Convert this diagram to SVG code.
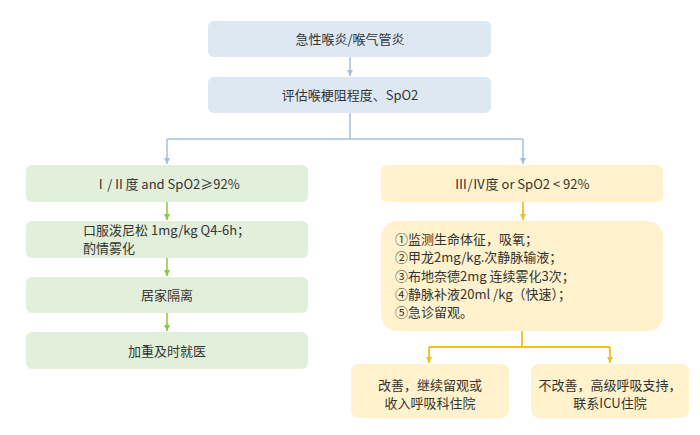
<svg xmlns="http://www.w3.org/2000/svg" width="700" height="435" viewBox="0 0 700 435">
<defs>
<style>
text{font-family:"Noto Sans CJK SC","Liberation Sans",sans-serif;font-size:13px;fill:#333333}
.c{text-anchor:middle}
.blue{fill:#DEE8F3}
.green{fill:#E2EFDA}
.yellow{fill:#FFF2CC}
.lb{fill:none;stroke:#A6BFD9;stroke-width:1.5}
.lg{fill:none;stroke:#8CC63F;stroke-width:1.5}
.ly{fill:none;stroke:#F2BE1A;stroke-width:1.8}
</style>
<marker id="ag" viewBox="0 0 6 6" refX="6" refY="3" markerWidth="6" markerHeight="6" markerUnits="userSpaceOnUse" orient="auto"><path d="M0,0 L6,3 L0,6 Z" fill="#8CC63F"/></marker>
<marker id="ay" viewBox="0 0 6 6" refX="6" refY="3" markerWidth="6" markerHeight="6" markerUnits="userSpaceOnUse" orient="auto"><path d="M0,0 L6,3 L0,6 Z" fill="#F2BE1A"/></marker>
<marker id="abl" viewBox="0 0 6 6" refX="6" refY="3" markerWidth="6" markerHeight="6" markerUnits="userSpaceOnUse" orient="auto"><path d="M0,0 L6,3 L0,6 Z" fill="#A6BFD9"/></marker>
</defs>
<rect width="700" height="435" fill="#ffffff"/>
<g id="connectors">
<path class="lb" d="M350,57 V76" marker-end="url(#abl)"/>
<path class="lb" d="M350,113 V139 M167,139 H523"/>
<path class="lb" d="M167,139 V164" marker-end="url(#abl)"/>
<path class="lb" d="M523,139 V164" marker-end="url(#abl)"/>
<path class="lg" d="M167,202 V220" marker-end="url(#ag)"/>
<path class="lg" d="M167,258 V276" marker-end="url(#ag)"/>
<path class="lg" d="M167,313 V331" marker-end="url(#ag)"/>
<path class="ly" d="M523,202 V220" marker-end="url(#ay)"/>
<path class="ly" d="M522,331 V347 M429,347 H610"/>
<path class="ly" d="M429,347 V363" marker-end="url(#ay)"/>
<path class="ly" d="M610,347 V363" marker-end="url(#ay)"/>
</g>
<g id="n1"><rect class="blue" x="208" y="21" width="283" height="36" rx="6"/><text class="c" x="350" y="44">急性喉炎/喉气管炎</text></g>
<g id="n2"><rect class="blue" x="208" y="77" width="283" height="36" rx="6"/><text class="c" x="350" y="100">评估喉梗阻程度、SpO2</text></g>
<g id="g1"><rect class="green" x="26" y="165" width="282" height="37" rx="6"/><text class="c" x="167" y="189">Ⅰ/Ⅱ度 and SpO2≥92%</text></g>
<g id="g2"><rect class="green" x="26" y="221" width="282" height="37" rx="6"/><text x="83" y="235">口服泼尼松 1mg/kg Q4-6h；</text><text x="83" y="253">酌情雾化</text></g>
<g id="g3"><rect class="green" x="26" y="277" width="282" height="36" rx="6"/><text class="c" x="167" y="300">居家隔离</text></g>
<g id="g4"><rect class="green" x="26" y="332" width="282" height="37" rx="6"/><text class="c" x="167" y="356">加重及时就医</text></g>
<g id="y1"><rect class="yellow" x="381" y="165" width="282" height="37" rx="6"/><text class="c" x="522" y="189">Ⅲ/Ⅳ度 or SpO2 &lt; 92%</text></g>
<g id="y2"><rect class="yellow" x="381" y="221" width="282" height="110" rx="16"/>
<text x="395" y="244">①监测生命体征，吸氧；</text>
<text x="395" y="262">②甲龙2mg/kg.次静脉输液；</text>
<text x="395" y="281">③布地奈德2mg 连续雾化3次；</text>
<text x="395" y="299">④静脉补液20ml /kg（快速）；</text>
<text x="395" y="317">⑤急诊留观。</text></g>
<g id="y3"><rect class="yellow" x="351" y="364" width="158" height="54" rx="8"/><text class="c" x="430" y="390">改善，继续留观或</text><text class="c" x="430" y="408">收入呼吸科住院</text></g>
<g id="y4"><rect class="yellow" x="531" y="364" width="158" height="54" rx="8"/><text class="c" x="610" y="390">不改善，高级呼吸支持，</text><text class="c" x="610" y="408">联系ICU住院</text></g>
</svg>
